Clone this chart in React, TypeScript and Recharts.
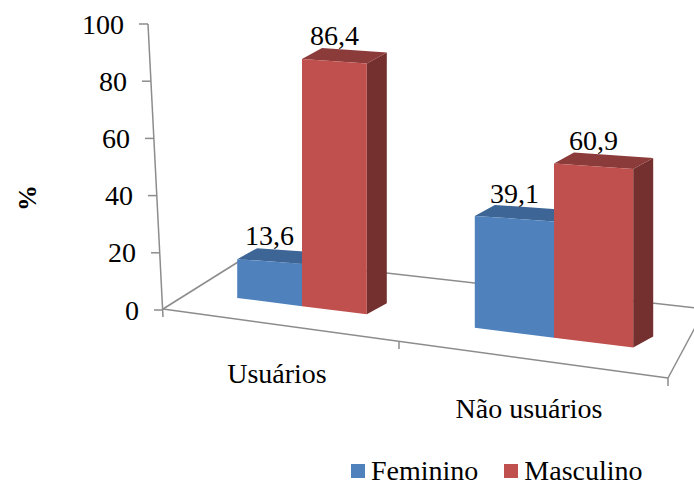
import { BarChart, Bar, XAxis, YAxis, Legend, LabelList, Customized, Label } from "recharts";

const categorias = ["Usuários", "Não usuários"];
const feminino = [13.6, 39.1];
const masculino = [86.4, 60.9];
const ticksY = [0, 20, 40, 60, 80, 100];

const series = [
  { key: "feminino", nome: "Feminino", frente: "#4F81BD", topo: "#3D6696", lado: "#32547C" },
  { key: "masculino", nome: "Masculino", frente: "#C0504D", topo: "#8B3B39", lado: "#73302E" },
];

const dados = categorias.map((grupo, i) => ({
  grupo,
  feminino: feminino[i],
  masculino: masculino[i],
}));

const W = 694;
const H = 485;
const EIXO_X = 163; // foot of the value axis
const BASE = 310; // pixel row of 0 %
const TOPO = 24; // pixel row of 100 %
const FONTE = "Liberation Serif, DejaVu Serif, Times New Roman, serif";
const COR_EIXO = "#8C8C8C";

// fake perspective: the floor drops as it comes to the right,
// and bars further right are drawn a little wider
const queda = (x: number) => -12 + 0.125 * (x - 237);
const largura = (c: number) => 0.9 + (0.2 * (c - 302)) / 252;
const PROF = { dx: 20, dy: -11 };
const INCL_TOPO = 0.07;
const eixoX = (y: number) => EIXO_X - (15 * (BASE - y)) / (BASE - TOPO);

const fmt = (v: number) => String(v).replace(".", ",");

const pts = (p: { x: number; y: number }[]) => p.map((q) => `${q.x},${q.y}`).join(" ");

// bar box after perspective: first series sits left of the band centre, second right of it
function geometria(x: number, y: number, w: number, h: number, ordem: number) {
  const centro = ordem === 0 ? x + w : x;
  const lw = w * largura(centro);
  const x0 = ordem === 0 ? centro - lw : centro;
  const bl = { x: x0, y: y + h + queda(x0) };
  const br = { x: x0 + lw, y: y + h + queda(x0 + lw) };
  const tl = { x: x0, y: bl.y - h };
  const tr = { x: x0 + lw, y: tl.y + INCL_TOPO * lw };
  return { bl, br, tl, tr, x0, lw };
}

function Caixa(props: any) {
  const { x, y, width: w, height: h, serie, ordem } = props;
  if (!w || h == null) return null;
  const { bl, br, tl, tr } = geometria(x, y, w, h, ordem);
  const d = (q: { x: number; y: number }) => ({ x: q.x + PROF.dx, y: q.y + PROF.dy });
  return (
    <g>
      <polygon points={pts([tr, br, d(br), d(tr)])} fill={serie.lado} />
      <polygon points={pts([tl, tr, d(tr), d(tl)])} fill={serie.topo} />
      <polygon points={pts([tl, tr, br, bl])} fill={serie.frente} />
    </g>
  );
}

function Rotulo(props: any) {
  const vb = props.viewBox ?? props;
  const { tl, x0, lw } = geometria(vb.x, vb.y, vb.width, vb.height, props.ordem);
  const topo = tl.y + (INCL_TOPO * lw) / 2 + PROF.dy;
  return (
    <text x={x0 + lw / 2} y={topo - 5} textAnchor="middle" fontFamily={FONTE} fontSize={28} fill="#000">
      {fmt(props.value)}
    </text>
  );
}

function TickY(props: any) {
  const { y, payload } = props;
  const ax = eixoX(y);
  return (
    <g>
      <line x1={ax - 9} x2={ax} y1={y} y2={y} stroke={COR_EIXO} strokeWidth={1.5} />
      <text x={ax - 24} y={y} textAnchor="end" dominantBaseline="central" fontFamily={FONTE} fontSize={28} fill="#000">
        {payload.value}
      </text>
    </g>
  );
}

function TickX(props: any) {
  const { x, payload } = props;
  return (
    <text x={x - 25} y={BASE + 73 + 0.139 * (x - 302)} textAnchor="middle" fontFamily={FONTE} fontSize={28} fill="#000">
      {payload.value}
    </text>
  );
}

// floor outline and the slanted value axis
function Piso() {
  const linha = (x1: number, y1: number, x2: number, y2: number, k: string) => (
    <line key={k} x1={x1} y1={y1} x2={x2} y2={y2} stroke={COR_EIXO} strokeWidth={1.5} />
  );
  return (
    <g>
      {linha(eixoX(TOPO), TOPO, EIXO_X, BASE + 7, "eixo")}
      {linha(EIXO_X, BASE - 1, 246, 257, "esq")}
      {linha(246, 257, 705, 309, "fundo")}
      {linha(EIXO_X, BASE - 1, 668, 378, "frente")}
      {linha(668, 378, 705, 309, "dir")}
      {linha(399, 341, 399, 349, "t1")}
      {linha(668, 378, 668, 386, "t2")}
    </g>
  );
}

function Legenda() {
  return (
    <div style={{ display: "flex", alignItems: "center", fontFamily: FONTE, fontSize: 28, color: "#000" }}>
      {series.map((s) => (
        <div key={s.key} style={{ display: "flex", alignItems: "center", marginRight: 26 }}>
          <span style={{ width: 14, height: 14, background: s.frente, marginRight: 6, display: "inline-block" }} />
          <span>{s.nome}</span>
        </div>
      ))}
    </div>
  );
}

export default function App() {
  return (
    <div style={{ position: "absolute", left: 0, top: 0, background: "#fff" }}>
      <BarChart
        width={W}
        height={H}
        data={dados}
        margin={{ top: TOPO, right: 14, left: 0, bottom: 85 }}
        barGap={0}
        barSize={72}
      >
        <Customized component={<Piso />} />
        <XAxis
          dataKey="grupo"
          padding={{ left: 13, right: 0 }}
          axisLine={false}
          tickLine={false}
          height={60}
          tick={<TickX />}
        />
        <YAxis
          domain={[0, 100]}
          ticks={ticksY}
          width={EIXO_X}
          axisLine={false}
          tickLine={false}
          tick={<TickY />}
        >
          <Label
            content={() => (
              <text
                x={27}
                y={198}
                transform="rotate(-90 27 198)"
                textAnchor="middle"
                dominantBaseline="central"
                fontFamily={FONTE}
                fontSize={26}
                fontWeight="bold"
                fill="#000"
              >
                %
              </text>
            )}
          />
        </YAxis>
        <Legend
          verticalAlign="bottom"
          height={30}
          wrapperStyle={{ left: 351, top: 455, width: 340 }}
          content={() => <Legenda />}
        />
        {series.map((s, i) => (
          <Bar
            key={s.key}
            dataKey={s.key}
            name={s.nome}
            fill={s.frente}
            isAnimationActive={false}
            shape={(p: any) => <Caixa {...p} serie={s} ordem={i} />}
          >
            <LabelList dataKey={s.key} content={<Rotulo ordem={i} />} />
          </Bar>
        ))}
      </BarChart>
    </div>
  );
}
